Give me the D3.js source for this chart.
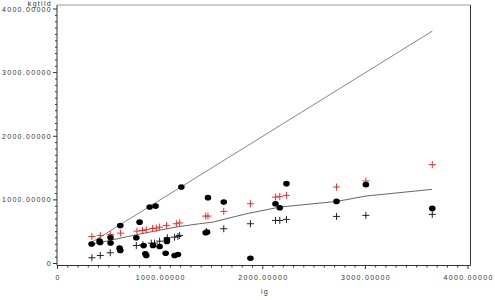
<!DOCTYPE html>
<html>
<head>
<meta charset="utf-8">
<script src="https://cdn.jsdelivr.net/npm/d3@7"></script>
<style>
  body { margin: 0; background: #fff; }
  svg { display: block; }
  text { font-family: "Liberation Sans", Arial, sans-serif; font-size: 7px; fill: #333; letter-spacing: 1.3px; }
</style>
</head>
<body>
<div class="chart"></div>
<script>
// values
const tickValues = [0, 1000, 2000, 3000, 4000]

const dotX = [332, 415, 410, 517, 517, 605, 612, 612, 768, 800, 839, 856, 865, 898, 956, 930, 995, 1066, 1066, 1054, 1141, 1174, 1207, 1444, 1457, 1466, 1620, 1880, 2124, 2166, 2231, 2719, 3005, 3652]
const dotY = [307, 331, 351, 323, 409, 241, 205, 598, 405, 650, 283, 153, 126, 887, 902, 283, 268, 373, 346, 162, 126, 142, 1202, 483, 493, 1035, 965, 83, 940, 877, 1255, 976, 1239, 866]

const upperX = [335, 417, 514, 615, 774, 829, 865, 927, 963, 995, 1063, 1158, 1190, 1444, 1466, 1620, 1880, 2124, 2166, 2231, 2719, 3005, 3652]
const upperY = [425, 441, 457, 477, 509, 520, 531, 551, 556, 572, 598, 625, 638, 745, 745, 819, 940, 1044, 1055, 1071, 1202, 1296, 1554]

const lowerX = [335, 417, 514, 768, 832, 914, 946, 995, 1070, 1141, 1174, 1190, 1450, 1620, 1880, 2124, 2166, 2231, 2719, 3005, 3652]
const lowerY = [90, 126, 169, 283, 294, 320, 320, 351, 405, 414, 425, 441, 504, 546, 625, 677, 677, 693, 740, 756, 772]

const fitX = [332, 507, 829, 1161, 1385, 1512, 1844, 2166, 2722, 3005, 3649]
const fitY = [299, 362, 472, 575, 625, 650, 783, 887, 976, 1060, 1165]

const diagX = [332, 3652]
const diagY = [332, 3652]

const width = 495
const height = 300

const svg = d3.select(".chart")
    .append("svg")
    .attr("width", width)
    .attr("height", height)

const x = d3.scaleLinear().domain([0, 4000]).range([57.5, 468])
const y = d3.scaleLinear().domain([0, 4000]).range([263.5, 9])

const frame = { left: 57, right: 470.5, top: 5, bottom: 265.5 }

// frame
svg.append("line")
    .attr("x1", frame.left).attr("x2", frame.right)
    .attr("y1", frame.top).attr("y2", frame.top)
    .attr("stroke", "#999").attr("stroke-width", 1.2)
svg.append("line")
    .attr("x1", frame.right).attr("x2", frame.right)
    .attr("y1", frame.top).attr("y2", frame.bottom)
    .attr("stroke", "#333")

const fmt = d => d === 0 ? "0" : d.toFixed(5)
const minor = d3.range(0, 4001, 100)

// x axis
const xAxis = svg.append("g").attr("transform", `translate(0, ${frame.bottom})`)
xAxis.append("line")
    .attr("x1", frame.left).attr("x2", frame.right)
    .attr("stroke", "#333")
xAxis.selectAll(".minor")
    .data(minor)
    .join("line")
    .attr("x1", d => x(d)).attr("x2", d => x(d))
    .attr("y1", 0).attr("y2", d => d % 1000 === 0 ? 3.5 : 2)
    .attr("stroke", "#333")
xAxis.selectAll("text")
    .data(tickValues)
    .join("text")
    .attr("x", d => x(d) + 0.6)
    .attr("y", 14.5)
    .attr("text-anchor", "middle")
    .text(fmt)

// y axis
const yAxis = svg.append("g").attr("transform", `translate(${frame.left}, 0)`)
yAxis.append("line")
    .attr("y1", frame.top).attr("y2", frame.bottom)
    .attr("stroke", "#333")
yAxis.selectAll(".minor")
    .data(minor)
    .join("line")
    .attr("y1", d => y(d)).attr("y2", d => y(d))
    .attr("x1", 0).attr("x2", d => d % 1000 === 0 ? -4 : -2)
    .attr("stroke", "#333")
yAxis.selectAll("text")
    .data(tickValues)
    .join("text")
    .attr("x", -5)
    .attr("y", d => y(d) + 2.5)
    .attr("text-anchor", "end")
    .text(fmt)

// axis titles
svg.append("text")
    .attr("x", 52).attr("y", 6)
    .attr("text-anchor", "end")
    .text("kgtild")
svg.append("text")
    .attr("x", 265).attr("y", 294)
    .attr("text-anchor", "middle")
    .text("ig")

// lines
const line = d3.line().x(d => x(d[0])).y(d => y(d[1]))
svg.append("path")
    .attr("d", line(d3.zip(diagX, diagY)))
    .attr("fill", "none").attr("stroke", "#777").attr("stroke-width", 0.9)
svg.append("path")
    .attr("d", line(d3.zip(fitX, fitY)))
    .attr("fill", "none").attr("stroke", "#555").attr("stroke-width", 0.9)

// plus markers
function plus(sel, xs, ys, colour) {
    sel.selectAll(null)
        .data(d3.zip(xs, ys))
        .join("path")
        .attr("d", d => {
            const cx = x(d[0]), cy = y(d[1])
            return `M${cx - 3.5},${cy}H${cx + 3.5}M${cx},${cy - 3.5}V${cy + 3.5}`
        })
        .attr("stroke", colour)
        .attr("stroke-width", 1)
}
plus(svg.append("g"), upperX, upperY, "#e8312f")
plus(svg.append("g"), lowerX, lowerY, "#222")

// filled dots
svg.append("g")
    .selectAll("ellipse")
    .data(d3.zip(dotX, dotY))
    .join("ellipse")
    .attr("cx", d => x(d[0]))
    .attr("cy", d => y(d[1]))
    .attr("rx", 3.3)
    .attr("ry", 2.8)
    .attr("fill", "#000")
</script>
</body>
</html>
